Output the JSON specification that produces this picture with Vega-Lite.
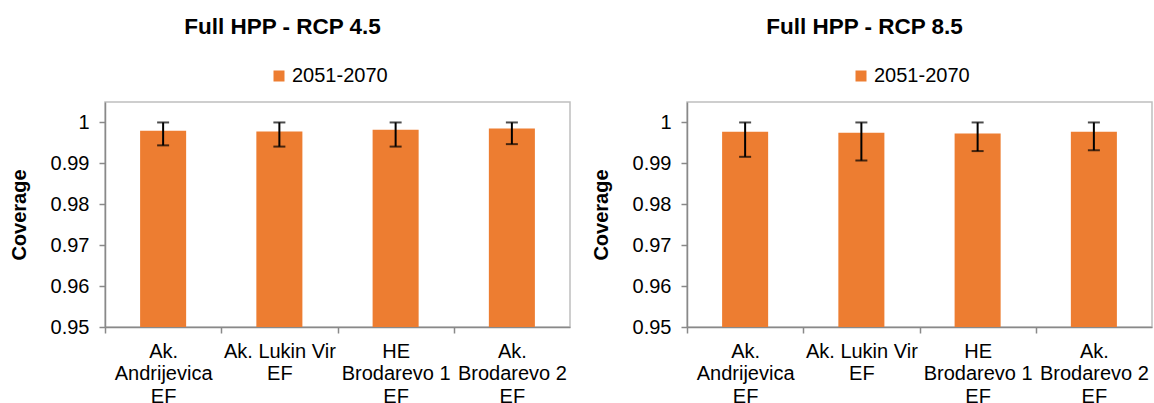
{
  "$schema": "https://vega.github.io/schema/vega-lite/v6.json",
  "background": "white",
  "padding": {"left": 8, "top": 14, "right": 2, "bottom": 0},
  "datasets": {
    "cov": [
      {"scenario": "RCP 4.5", "period": "2051-2070", "station": "Ak. Andrijevica EF", "value": 0.9980, "lower": 0.9944, "upper": 1.0},
      {"scenario": "RCP 4.5", "period": "2051-2070", "station": "Ak. Lukin Vir EF", "value": 0.9978, "lower": 0.9941, "upper": 1.0},
      {"scenario": "RCP 4.5", "period": "2051-2070", "station": "HE Brodarevo 1 EF", "value": 0.9982, "lower": 0.9941, "upper": 1.0},
      {"scenario": "RCP 4.5", "period": "2051-2070", "station": "Ak. Brodarevo 2 EF", "value": 0.9985, "lower": 0.9947, "upper": 1.0},
      {"scenario": "RCP 8.5", "period": "2051-2070", "station": "Ak. Andrijevica EF", "value": 0.9977, "lower": 0.9916, "upper": 1.0},
      {"scenario": "RCP 8.5", "period": "2051-2070", "station": "Ak. Lukin Vir EF", "value": 0.9975, "lower": 0.9907, "upper": 1.0},
      {"scenario": "RCP 8.5", "period": "2051-2070", "station": "HE Brodarevo 1 EF", "value": 0.9973, "lower": 0.9930, "upper": 1.0},
      {"scenario": "RCP 8.5", "period": "2051-2070", "station": "Ak. Brodarevo 2 EF", "value": 0.9977, "lower": 0.9932, "upper": 1.0}
    ]
  },
  "config": {
    "font": "Liberation Sans",
    "view": {"stroke": "#BFBFBF", "strokeWidth": 1.5},
    "title": {"font": "Liberation Sans", "fontSize": 22.5, "fontWeight": "bold", "color": "#000000", "dx": -55, "offset": 28, "anchor": "middle"},
    "axis": {
      "labelFont": "Liberation Sans", "labelFontSize": 20, "labelColor": "#000000",
      "titleFont": "Liberation Sans", "titleFontSize": 20, "titleFontWeight": "bold", "titleColor": "#000000",
      "domainColor": "#898989", "domainWidth": 1.5, "tickColor": "#898989", "tickWidth": 1.5, "tickSize": 6, "grid": false
    },
    "legend": {
      "orient": "none", "legendX": 164, "legendY": -36, "padding": 0,
      "labelFont": "Liberation Sans", "labelFontSize": 20, "labelColor": "#000000", "labelOffset": 3,
      "symbolType": "square", "symbolSize": 121, "symbolStrokeWidth": 0, "title": null
    }
  },
  "spacing": 19,
  "resolve": {"scale": {"color": "independent"}, "legend": {"color": "independent"}},
  "hconcat": [
    {
      "title": "Full HPP - RCP 4.5",
      "width": 465, "height": 225,
      "data": {"name": "cov"},
      "transform": [{"filter": "datum.scenario === 'RCP 4.5'"}],
      "encoding": {
        "x": {
          "field": "station", "type": "nominal", "sort": null,
          "scale": {"paddingInner": 0.604, "paddingOuter": 0.302},
          "axis": {
            "title": null, "labelAngle": 0, "labelPadding": 8, "labelLineHeight": 22.5, "tickOffset": -58.125, "labelOffset": 58.125, "labelBaseline": "top",
            "labelExpr": "datum.label === 'Ak. Andrijevica EF' ? ['Ak.', 'Andrijevica', 'EF'] : datum.label === 'Ak. Lukin Vir EF' ? ['Ak. Lukin Vir', 'EF'] : datum.label === 'HE Brodarevo 1 EF' ? ['HE', 'Brodarevo 1', 'EF'] : ['Ak.', 'Brodarevo 2', 'EF']"
          }
        }
      },
      "layer": [
        {
          "mark": {"type": "bar", "color": "#ED7D31", "clip": true},
          "encoding": {
            "y": {"field": "value", "type": "quantitative", "scale": {"domain": [0.95, 1.005], "zero": false, "nice": false},
              "axis": {"title": "Coverage", "values": [0.95, 0.96, 0.97, 0.98, 0.99, 1.0], "format": "~g", "labelPadding": 10, "titlePadding": 21}},
            "color": {"field": "period", "type": "nominal", "scale": {"range": ["#ED7D31"]}}
          }
        },
        {
          "mark": {"type": "rule", "color": "#000000", "strokeWidth": 2},
          "encoding": {"y": {"field": "lower", "type": "quantitative", "title": "Coverage"}, "y2": {"field": "upper"}}
        },
        {
          "mark": {"type": "tick", "color": "#000000", "thickness": 2, "size": 12},
          "encoding": {"y": {"field": "lower", "type": "quantitative", "title": "Coverage"}}
        },
        {
          "mark": {"type": "tick", "color": "#000000", "thickness": 2, "size": 12},
          "encoding": {"y": {"field": "upper", "type": "quantitative", "title": "Coverage"}}
        }
      ]
    },
    {
      "title": "Full HPP - RCP 8.5",
      "width": 465, "height": 225,
      "data": {"name": "cov"},
      "transform": [{"filter": "datum.scenario === 'RCP 8.5'"}],
      "encoding": {
        "x": {
          "field": "station", "type": "nominal", "sort": null,
          "scale": {"paddingInner": 0.604, "paddingOuter": 0.302},
          "axis": {
            "title": null, "labelAngle": 0, "labelPadding": 8, "labelLineHeight": 22.5, "tickOffset": -58.125, "labelOffset": 58.125, "labelBaseline": "top",
            "labelExpr": "datum.label === 'Ak. Andrijevica EF' ? ['Ak.', 'Andrijevica', 'EF'] : datum.label === 'Ak. Lukin Vir EF' ? ['Ak. Lukin Vir', 'EF'] : datum.label === 'HE Brodarevo 1 EF' ? ['HE', 'Brodarevo 1', 'EF'] : ['Ak.', 'Brodarevo 2', 'EF']"
          }
        }
      },
      "layer": [
        {
          "mark": {"type": "bar", "color": "#ED7D31", "clip": true},
          "encoding": {
            "y": {"field": "value", "type": "quantitative", "scale": {"domain": [0.95, 1.005], "zero": false, "nice": false},
              "axis": {"title": "Coverage", "values": [0.95, 0.96, 0.97, 0.98, 0.99, 1.0], "format": "~g", "labelPadding": 10, "titlePadding": 21}},
            "color": {"field": "period", "type": "nominal", "scale": {"range": ["#ED7D31"]}}
          }
        },
        {
          "mark": {"type": "rule", "color": "#000000", "strokeWidth": 2},
          "encoding": {"y": {"field": "lower", "type": "quantitative", "title": "Coverage"}, "y2": {"field": "upper"}}
        },
        {
          "mark": {"type": "tick", "color": "#000000", "thickness": 2, "size": 12},
          "encoding": {"y": {"field": "lower", "type": "quantitative", "title": "Coverage"}}
        },
        {
          "mark": {"type": "tick", "color": "#000000", "thickness": 2, "size": 12},
          "encoding": {"y": {"field": "upper", "type": "quantitative", "title": "Coverage"}}
        }
      ]
    }
  ]
}
